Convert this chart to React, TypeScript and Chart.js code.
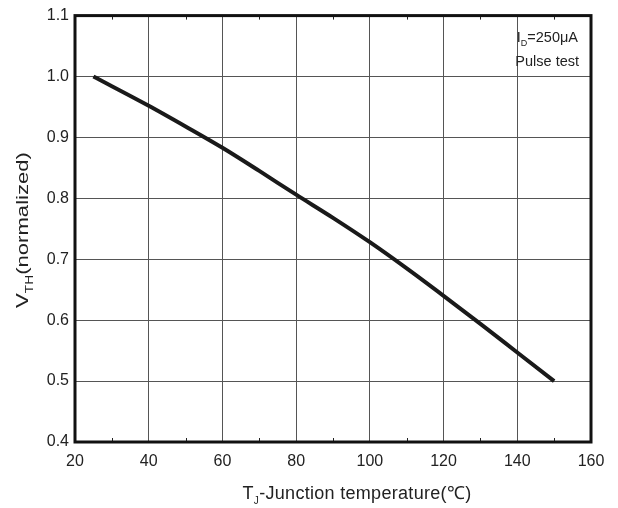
import React, { useEffect, useRef } from "react";
import { Chart, registerables } from "chart.js";

Chart.register(...registerables);

const temps = [25, 40, 50, 60, 70, 80, 90, 100, 110, 120, 130, 140, 150];
const vth = [1.0, 0.952, 0.918, 0.883, 0.845, 0.806, 0.768, 0.728, 0.685, 0.64, 0.594, 0.547, 0.5];
const xTicks = [20, 40, 60, 80, 100, 120, 140, 160];
const yTicks = [0.4, 0.5, 0.6, 0.7, 0.8, 0.9, 1.0, 1.1];
const minorX = [30, 50, 70, 90, 110, 130, 150];

const FONT = "'Liberation Sans', Arial, sans-serif";

type Part = { t: string; size: number; dy?: number };

function drawRich(
  ctx: CanvasRenderingContext2D,
  parts: Part[],
  x: number,
  y: number,
  align: "center" | "right" | "left",
  spacing = 0
) {
  const c: any = ctx;
  c.letterSpacing = `${spacing}px`;
  let total = 0;
  for (const p of parts) {
    ctx.font = `${p.size}px ${FONT}`;
    total += ctx.measureText(p.t).width;
  }
  let cx = align === "center" ? x - total / 2 : align === "right" ? x - total : x;
  ctx.textAlign = "left";
  ctx.textBaseline = "alphabetic";
  for (const p of parts) {
    ctx.font = `${p.size}px ${FONT}`;
    ctx.fillText(p.t, cx, y + (p.dy || 0));
    cx += ctx.measureText(p.t).width;
  }
  c.letterSpacing = "0px";
}

const decorPlugin = {
  id: "decor",
  afterDatasetsDraw(chart: any) {
    const { ctx, chartArea } = chart;
    const { left, right, top, bottom } = chartArea;
    const xs = chart.scales.x;
    ctx.save();
    // minor ticks
    ctx.strokeStyle = "#222";
    ctx.lineWidth = 1;
    for (const v of minorX) {
      const px = Math.round(xs.getPixelForValue(v)) + 0.5;
      ctx.beginPath();
      ctx.moveTo(px, bottom);
      ctx.lineTo(px, bottom - 4);
      ctx.moveTo(px, top);
      ctx.lineTo(px, top + 4);
      ctx.stroke();
    }
    // border
    ctx.strokeStyle = "#111";
    ctx.lineWidth = 3;
    ctx.strokeRect(left, top, right - left, bottom - top);
    ctx.fillStyle = "#222";
    // annotation
    drawRich(ctx, [{ t: "I", size: 14.5 }, { t: "D", size: 9, dy: 4 }, { t: "=250μA", size: 14.5 }], 578, 42, "right");
    drawRich(ctx, [{ t: "Pulse test", size: 14.5 }], 579, 66, "right");
    // x title
    drawRich(
      ctx,
      [{ t: "T", size: 18 }, { t: "J", size: 10, dy: 5 }, { t: "-Junction temperature(℃)", size: 18 }],
      357,
      499,
      "center",
      0.3
    );
    // y title (stretched along its length like the reference)
    ctx.translate(28, 230);
    ctx.rotate(-Math.PI / 2);
    ctx.scale(1.38, 1);
    drawRich(
      ctx,
      [{ t: "V", size: 16 }, { t: "TH", size: 10, dy: 5 }, { t: "(normalized)", size: 16 }],
      0,
      0,
      "center"
    );
    ctx.restore();
  },
};

export default function App() {
  const ref = useRef<HTMLCanvasElement | null>(null);
  useEffect(() => {
    if (!ref.current) return;
    const chart = new Chart(ref.current, {
      type: "scatter",
      data: {
        datasets: [
          {
            data: temps.map((t, i) => ({ x: t, y: vth[i] })),
            showLine: true,
            borderColor: "#1a1a1a",
            borderWidth: 4,
            pointRadius: 0,
            cubicInterpolationMode: "monotone",
            borderCapStyle: "butt",
          } as any,
        ],
      },
      options: {
        responsive: false,
        animation: false,
        layout: { padding: { top: 14, right: 27, left: 0, bottom: 0 } },
        plugins: { legend: { display: false }, tooltip: { enabled: false } },
        scales: {
          x: {
            type: "linear",
            min: 20,
            max: 160,
            afterFit: (s: any) => {
              s.height = 66;
            },
            afterBuildTicks: (s: any) => {
              s.ticks = xTicks.map((v) => ({ value: v }));
            },
            grid: { color: "#555", lineWidth: 1, drawTicks: false },
            border: { display: false },
            ticks: { padding: 10, color: "#222", font: { family: FONT, size: 16 } },
          },
          y: {
            type: "linear",
            min: 0.4,
            max: 1.1,
            afterFit: (s: any) => {
              s.width = 75;
            },
            afterBuildTicks: (s: any) => {
              s.ticks = yTicks.map((v) => ({ value: v }));
            },
            grid: { color: "#555", lineWidth: 1, drawTicks: false },
            border: { display: false },
            ticks: {
              padding: 6,
              color: "#222",
              font: { family: FONT, size: 16 },
              callback: (v: any) => Number(v).toFixed(1),
            },
          },
        },
      },
      plugins: [decorPlugin],
    });
    return () => chart.destroy();
  }, []);
  return (
    <div style={{ position: "absolute", left: 0, top: 0, width: 618, height: 508, background: "#fff" }}>
      <canvas ref={ref} width={618} height={508} />
    </div>
  );
}
